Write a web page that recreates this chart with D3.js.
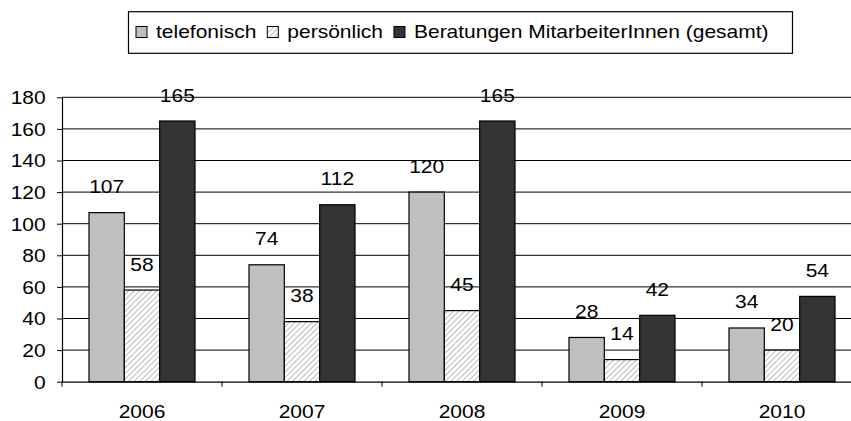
<!DOCTYPE html>
<html>
<head>
<meta charset="utf-8">
<script src="https://cdnjs.cloudflare.com/ajax/libs/d3/7.9.0/d3.min.js"></script>
<style>
  body { margin: 0; background: #fff; }
  text { font-family: "Liberation Sans", Arial, sans-serif; font-size: 17.5px; fill: #000; }
</style>
</head>
<body>
<script>
// data
const years = ["2006", "2007", "2008", "2009", "2010"];
const seriesNames = ["telefonisch", "persönlich", "Beratungen MitarbeiterInnen (gesamt)"];
const telefonisch = [107, 74, 120, 28, 34];
const persoenlich = [58, 38, 45, 14, 20];
const gesamt = [165, 112, 165, 42, 54];
const yTicks = [0, 20, 40, 60, 80, 100, 120, 140, 160, 180];

const width = 851, height = 421;
const plot = { left: 62, right: 862, top: 97.3, bottom: 381.7 };
const stretch = 1.2; // the text in the picture is a bit wide

const svg = d3.select("body").append("svg")
  .attr("width", width)
  .attr("height", height);

// hatch for "persönlich"
const pat = svg.append("defs").append("pattern")
  .attr("id", "hatch")
  .attr("patternUnits", "userSpaceOnUse")
  .attr("width", 4).attr("height", 4)
  .attr("patternTransform", "rotate(45)");
pat.append("rect").attr("width", 4).attr("height", 4).attr("fill", "#fff");
pat.append("line").attr("x1", 0).attr("y1", 0).attr("x2", 0).attr("y2", 4)
  .attr("stroke", "#a8a8a8").attr("stroke-width", 1.6);

const fills = ["#c0c0c0", "url(#hatch)", "#333333"];
const values = [telefonisch, persoenlich, gesamt];

const x0 = d3.scaleBand().domain(years).range([plot.left, plot.right]);
const groupW = 106;
const x1 = d3.scaleBand().domain(seriesNames).range([0, groupW]);
const groupOff = (x0.bandwidth() - groupW) / 2;
const y = d3.scaleLinear().domain([0, 180]).range([plot.bottom, plot.top]);

// gridlines
svg.append("g").selectAll("line")
  .data(yTicks.slice(1))
  .join("line")
  .attr("x1", plot.left).attr("x2", plot.right)
  .attr("y1", d => y(d)).attr("y2", d => y(d))
  .attr("stroke", "#000").attr("stroke-width", 1);

// bars
const rows = [];
years.forEach((yr, i) => {
  seriesNames.forEach((s, j) => rows.push({ year: yr, series: s, j: j, v: values[j][i] }));
});

svg.append("g").selectAll("rect")
  .data(rows)
  .join("rect")
  .attr("x", d => x0(d.year) + groupOff + x1(d.series))
  .attr("y", d => y(d.v))
  .attr("width", x1.bandwidth())
  .attr("height", d => y(0) - y(d.v))
  .attr("fill", d => fills[d.j])
  .attr("stroke", "#000")
  .attr("stroke-width", 1.2);

// value labels
svg.append("g").selectAll("text")
  .data(rows)
  .join("text")
  .attr("text-anchor", "middle")
  .attr("transform", d => `translate(${x0(d.year) + groupOff + x1(d.series) + x1.bandwidth() / 2},${y(d.v) - 19.5}) scale(${stretch},1)`)
  .text(d => d.v);

// y axis
const yAxis = svg.append("g")
  .attr("transform", `translate(${plot.left},0)`)
  .call(d3.axisLeft(y).tickValues(yTicks).tickSize(5).tickSizeOuter(0));
yAxis.select(".domain").attr("stroke", "#000").attr("stroke-width", 1.2);
yAxis.selectAll(".tick line").attr("stroke", "#000");
yAxis.selectAll(".tick text")
  .attr("x", -16.3 / stretch)
  .attr("dy", "0.37em")
  .attr("transform", `scale(${stretch},1)`)
  .style("font-size", "17.5px")
  .style("font-family", "Liberation Sans, Arial, sans-serif")
  .attr("fill", "#000");

// x axis
const xAxis = svg.append("g")
  .attr("transform", `translate(0,${plot.bottom})`)
  .call(d3.axisBottom(x0).tickSize(0).tickPadding(23.4).tickSizeOuter(0));
xAxis.select(".domain").attr("stroke", "#000").attr("stroke-width", 1.2);
xAxis.selectAll(".tick text")
  .attr("transform", `scale(${stretch},1)`)
  .style("font-size", "17.5px")
  .style("font-family", "Liberation Sans, Arial, sans-serif")
  .attr("fill", "#000");
xAxis.append("g").selectAll("line")
  .data(years.map(d => x0(d)).concat([plot.right]))
  .join("line")
  .attr("x1", d => d).attr("x2", d => d)
  .attr("y1", 0).attr("y2", 5)
  .attr("stroke", "#000");

// legend
const legend = svg.append("g");
legend.append("rect")
  .attr("x", 128.5).attr("y", 11.7)
  .attr("width", 664).attr("height", 41.6)
  .attr("fill", "#fff").attr("stroke", "#000").attr("stroke-width", 1.2);

let lx = 136;
seriesNames.forEach((s, j) => {
  legend.append("rect")
    .attr("x", lx).attr("y", 26.5)
    .attr("width", 11).attr("height", 11)
    .attr("fill", fills[j]).attr("stroke", "#000").attr("stroke-width", 1);
  const t = legend.append("text")
    .attr("transform", `translate(${lx + 20},38.2) scale(${stretch},1)`)
    .text(s);
  lx += 20 + t.node().getComputedTextLength() * stretch + 11;
});
</script>
</body>
</html>
